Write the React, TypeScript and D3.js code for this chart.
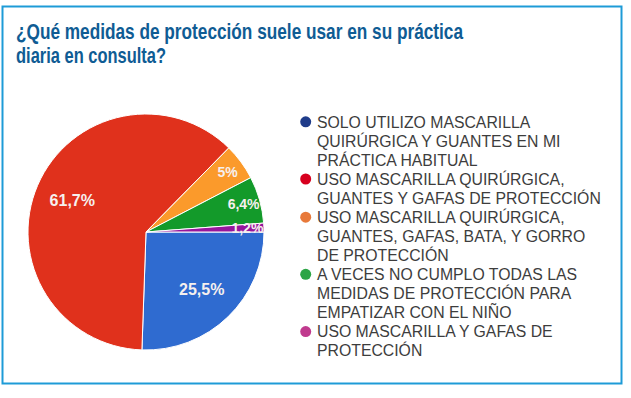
import React from "react";
import * as d3 from "d3";

const TITLE_LINES = ["¿Qué medidas de protección suele usar en su práctica", "diaria en consulta?"];
const CATEGORIES = [
  "SOLO UTILIZO MASCARILLA QUIRÚRGICA Y GUANTES EN MI PRÁCTICA HABITUAL",
  "USO MASCARILLA QUIRÚRGICA, GUANTES Y GAFAS DE PROTECCIÓN",
  "USO MASCARILLA QUIRÚRGICA, GUANTES, GAFAS, BATA, Y GORRO DE PROTECCIÓN",
  "A VECES NO CUMPLO TODAS LAS MEDIDAS DE PROTECCIÓN PARA EMPATIZAR CON EL NIÑO",
  "USO MASCARILLA Y GAFAS DE PROTECCIÓN",
];
const LEGEND_LINES = [
  ["SOLO UTILIZO MASCARILLA", "QUIRÚRGICA Y GUANTES EN MI", "PRÁCTICA HABITUAL"],
  ["USO MASCARILLA QUIRÚRGICA,", "GUANTES Y GAFAS DE PROTECCIÓN"],
  ["USO MASCARILLA QUIRÚRGICA,", "GUANTES, GAFAS, BATA, Y GORRO", "DE PROTECCIÓN"],
  ["A VECES NO CUMPLO TODAS LAS", "MEDIDAS DE PROTECCIÓN PARA", "EMPATIZAR CON EL NIÑO"],
  ["USO MASCARILLA Y GAFAS DE", "PROTECCIÓN"],
];
const VALUES = [25.5, 61.7, 5, 6.4, 1.2];
const LABELS = ["25,5%", "61,7%", "5%", "6,4%", "1,2%"];
const SLICE_COLORS = ["#2f6bd0", "#e0311c", "#fb9a2b", "#139a2a", "#96169c"];
const DOT_COLORS = ["#1f3c8a", "#d7001e", "#e8793a", "#2ca545", "#c03a8e"];

export default function App() {
  const W = 631, H = 398;
  const cx = 146, cy = 232, R = 118;
  const pie = d3
    .pie<number>()
    .sort(null)
    .startAngle(Math.PI / 2)
    .endAngle(Math.PI / 2 + 2 * Math.PI)(VALUES);
  const arc = d3.arc<d3.PieArcDatum<number>>().innerRadius(0).outerRadius(R);

  const lineH = 19.07;
  const legendX = 317;
  const legendY0 = 127.5;
  let lineIdx = 0;

  return (
    <svg
      width={W}
      height={H}
      style={{ position: "absolute", left: 0, top: 0, background: "#fff" }}
      fontFamily="'Liberation Sans', Arial, sans-serif"
    >
      <rect x={0} y={0} width={W} height={H} fill="#fff" />
      <rect x={2.5} y={6.5} width={619} height={377} fill="none" stroke="#1e9bd7" strokeWidth={2} />
      <g fill="#0f5c94" fontWeight="bold" fontSize={22}>
        <text x={16} y={39} textLength={447} lengthAdjust="spacingAndGlyphs">{TITLE_LINES[0]}</text>
        <text x={16} y={63} textLength={150} lengthAdjust="spacingAndGlyphs">{TITLE_LINES[1]}</text>
      </g>
      <g transform={`translate(${cx},${cy})`}>
        {pie.map((d, i) => (
          <path key={i} d={arc(d) || ""} fill={SLICE_COLORS[i]} stroke="#fff" strokeWidth={1} />
        ))}
        {pie.map((d, i) => {
          const mid = (d.startAngle + d.endAngle) / 2;
          const small = VALUES[i] < 10;
          const r = small ? 0.86 * R : 0.68 * R;
          const x = Math.sin(mid) * r;
          const y = -Math.cos(mid) * r;
          return (
            <text
              key={"l" + i}
              x={x}
              y={y}
              dy="0.35em"
              textAnchor="middle"
              fill="#f6f0ee"
              fontWeight="bold"
              fontSize={small ? 14 : 16}
            >
              {LABELS[i]}
            </text>
          );
        })}
      </g>
      <g fontSize={15.8} fill="#3d3d3d">
        {LEGEND_LINES.map((lines, i) => {
          const start = lineIdx;
          lineIdx += lines.length;
          const y0 = legendY0 + start * lineH;
          return (
            <g key={i}>
              <title>{CATEGORIES[i]}</title>
              <circle cx={305.7} cy={y0 - 5.7} r={5.5} fill={DOT_COLORS[i]} />
              {lines.map((t, j) => (
                <text key={j} x={legendX} y={y0 + j * lineH}>{t}</text>
              ))}
            </g>
          );
        })}
      </g>
    </svg>
  );
}
